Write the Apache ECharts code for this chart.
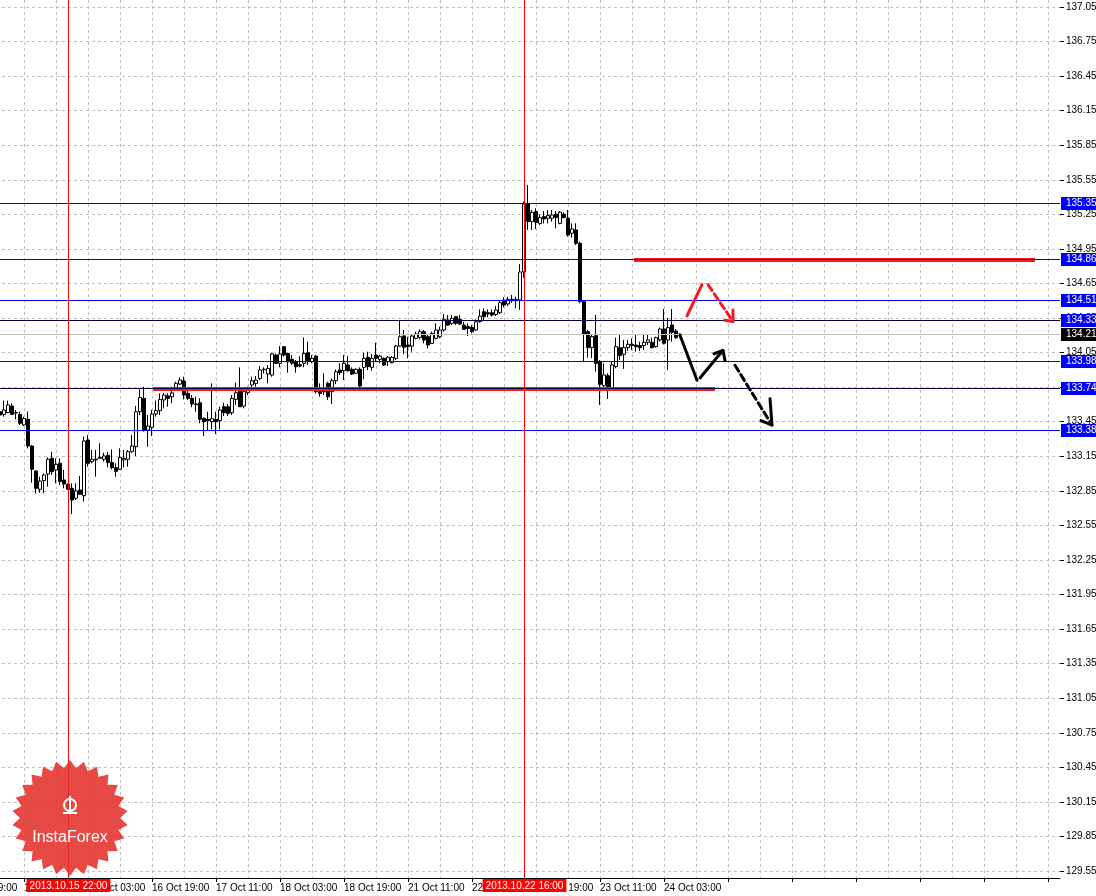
<!DOCTYPE html>
<html><head><meta charset="utf-8">
<script src="https://cdn.jsdelivr.net/npm/echarts@6/dist/echarts.min.js"></script>
<style>html,body{margin:0;padding:0;background:#fff}#c{width:1096px;height:896px}</style>
</head><body><div id="c"></div>
<script>
// ---- data ----
const barCount = 276;           // H1 bar slots (index 0 = 14 Oct 19:00)
const candleStart = 10;         // first drawn bar index
// [open, close, low, high]
const ohlc = [
[133.537,133.508,133.490,133.552],[133.514,133.552,133.494,133.633],[133.529,133.595,133.523,133.633],
[133.586,133.514,133.508,133.610],[133.526,133.529,133.471,133.552],[133.514,133.436,133.422,133.537],
[133.422,133.479,133.413,133.494],[133.471,133.239,133.219,133.537],[133.239,133.037,132.921,133.248],
[133.022,132.872,132.828,133.031],[132.863,132.935,132.834,132.973],[132.938,132.988,132.828,133.002],
[132.996,133.124,132.886,133.141],[133.132,133.016,132.988,133.190],[133.031,133.080,132.915,133.132],
[133.089,132.930,132.901,133.132],[132.944,132.909,132.872,133.031],[132.906,132.863,132.857,132.915],
[132.872,132.770,132.649,132.915],[132.785,132.849,132.770,132.915],[132.857,132.820,132.814,132.979],
[132.808,133.283,132.756,133.320],[133.291,133.089,133.060,133.335],[133.103,133.124,133.089,133.205],
[133.118,133.126,132.973,133.205],[133.132,133.141,133.132,133.262],[133.124,133.153,133.103,133.181],
[133.158,133.095,133.054,133.187],[133.095,133.051,133.037,133.210],[133.051,133.019,132.973,133.089],
[133.037,133.138,133.031,133.219],[133.118,133.132,133.054,133.205],[133.124,133.190,133.060,133.205],
[133.190,133.239,133.181,133.335],[133.233,133.537,133.153,133.586],[133.537,133.660,133.508,133.731],
[133.653,133.378,133.364,133.754],[133.378,133.413,133.233,133.508],[133.401,133.517,133.326,133.552],
[133.517,133.546,133.494,133.633],[133.546,133.644,133.508,133.696],[133.639,133.682,133.566,133.700],
[133.674,133.653,133.581,133.696],[133.667,133.700,133.610,133.754],[133.748,133.783,133.740,133.797],
[133.777,133.812,133.769,133.835],[133.803,133.682,133.644,133.841],[133.696,133.653,133.638,133.731],
[133.653,133.604,133.575,133.682],[133.604,133.598,133.537,133.667],[133.615,133.471,133.436,133.653],
[133.479,133.450,133.326,133.488],[133.471,133.459,133.372,133.537],[133.450,133.476,133.384,133.783],
[133.471,133.450,133.343,133.537],[133.459,133.552,133.384,133.580],[133.580,133.528,133.499,133.615],
[133.580,133.522,133.499,133.604],[133.528,133.653,133.508,133.682],[133.644,133.702,133.595,133.789],
[133.731,133.580,133.580,133.922],[133.586,133.711,133.566,133.740],[133.702,133.748,133.682,133.754],
[133.769,133.806,133.748,133.841],[133.783,133.812,133.754,133.847],[133.826,133.899,133.812,133.933],
[133.902,133.905,133.870,133.922],[133.864,133.913,133.783,133.942],[133.855,134.038,133.841,134.049],
[134.029,133.957,133.951,134.043],[133.957,134.038,133.922,134.107],[134.101,134.029,134.015,134.107],
[134.043,133.971,133.876,134.049],[133.991,133.957,133.942,134.029],[133.971,133.928,133.876,133.986],
[133.945,133.933,133.922,134.020],[133.957,134.043,133.922,134.182],[134.049,133.971,133.942,134.145],
[133.971,134.000,133.957,134.029],[134.020,133.711,133.696,134.029],[133.711,133.696,133.667,133.783],
[133.711,133.740,133.682,133.870],[133.783,133.667,133.638,133.797],[133.711,133.806,133.604,133.826],
[133.806,133.884,133.777,133.905],[133.899,133.876,133.855,133.957],[133.893,133.957,133.812,134.029],
[133.942,133.893,133.884,134.020],[133.905,133.864,133.855,133.922],[133.870,133.905,133.864,133.913],
[133.905,133.760,133.740,133.922],[133.922,134.000,133.818,134.049],[134.009,133.928,133.899,134.058],
[133.922,134.000,133.893,134.038],[134.029,134.000,133.971,134.136],[133.991,134.020,133.957,134.029],
[134.000,133.942,133.933,134.009],[133.971,134.009,133.933,134.020],[133.962,134.009,133.957,134.020],
[134.000,134.107,133.986,134.116],[134.107,134.188,134.101,134.333],[134.194,134.096,134.038,134.246],
[134.116,134.101,134.000,134.188],[134.107,134.194,134.058,134.203],[134.174,134.211,134.165,134.232],
[134.182,134.232,134.165,134.252],[134.232,134.159,134.130,134.246],[134.188,134.116,134.087,134.203],
[134.130,134.217,134.124,134.232],[134.174,134.246,134.165,134.304],[134.188,134.246,134.174,134.275],
[134.246,134.339,134.232,134.385],[134.333,134.289,134.281,134.376],[134.304,134.347,134.289,134.376],
[134.362,134.304,134.289,134.367],[134.339,134.298,134.289,134.376],[134.289,134.252,134.246,134.318],
[134.275,134.260,134.194,134.304],[134.269,134.232,134.217,134.289],[134.246,134.318,134.240,134.339],
[134.318,134.367,134.310,134.425],[134.405,134.362,134.333,134.434],[134.396,134.385,134.356,134.425],
[134.396,134.376,134.362,134.425],[134.382,134.420,134.367,134.454],[134.396,134.483,134.385,134.501],
[134.506,134.463,134.443,134.530],[134.472,134.512,134.454,134.535],[134.512,134.501,134.483,134.550],
[134.501,134.512,134.434,134.535],[134.507,134.750,134.420,134.820],[134.750,135.340,134.700,135.360],
[135.346,135.187,135.115,135.505],[135.187,135.268,135.115,135.288],[135.274,135.181,135.123,135.303],
[135.172,135.222,135.158,135.251],[135.230,135.210,135.172,135.279],[135.216,135.239,135.172,135.288],
[135.216,135.245,135.187,135.288],[135.251,135.222,135.129,135.279],[135.172,135.268,135.164,135.279],
[135.251,135.222,135.216,135.268],[135.216,135.071,135.057,135.288],[135.086,135.123,135.048,135.172],
[135.115,134.999,134.984,135.172],[134.999,134.492,134.478,135.013],[134.492,134.209,133.977,134.492],
[134.232,134.093,134.006,134.247],[134.093,134.189,134.001,134.209],[134.197,133.957,133.885,134.377],
[133.972,133.775,133.596,133.986],[133.763,133.856,133.740,133.957],[133.850,133.746,133.648,133.870],
[133.740,133.943,133.726,133.972],[133.928,134.102,133.914,134.180],[134.093,134.024,133.986,134.209],
[134.035,134.093,133.908,134.160],[134.093,134.122,134.064,134.160],[134.122,134.111,134.073,134.174],
[134.116,134.102,134.058,134.203],[134.111,134.093,134.064,134.145],[134.111,134.139,134.073,134.203],
[134.139,134.160,134.116,134.203],[134.139,134.093,134.087,134.180],[134.102,134.180,134.093,134.189],
[134.160,134.255,134.145,134.267],[134.255,134.131,134.120,134.429],[134.160,134.267,133.899,134.350],
[134.290,134.226,134.145,134.429],[134.238,134.180,134.168,134.255],[134.203,134.210,134.190,134.215]
];
// x-axis tick labels, one every 16 bars
const timeLabels = ["14 Oct 19:00","15 Oct 11:00","16 Oct 03:00","16 Oct 19:00","17 Oct 11:00","18 Oct 03:00",
  "18 Oct 19:00","21 Oct 11:00","22 Oct 03:00","22 Oct 19:00","23 Oct 11:00","24 Oct 03:00"];
// horizontal price levels [price, line colour, box colour]
const levels = [[135.35,'#0000ff','#0000ff'],[134.86,'#0000ff','#0000ff'],[134.51,'#0000ff','#0000ff'],
  [134.33,'#000040','#0000ff'],[133.98,'#0000ff','#0000ff'],[133.74,'#000040','#0000ff'],[133.38,'#0000ff','#0000ff'],
  [134.21,'#c0c0c0','#000000']];
// vertical time markers [bar index, label]
const timeMarks = [[27,'2013.10.15 22:00'],[141,'2013.10.22 16:00']];
// thick red support/resistance segments [[x0,x1], price]
const redSegments = [[[48.25,188.75],133.735],[[168.5,268.75],134.86]];
// hand-drawn forecast arrows (bar index, price)
const redArrow = [[181.75,134.37],[185.5,134.64]];
const redArrow2 = [[187,134.64],[193.25,134.32]];
const redHead = [[191.25,134.33],[193.25,134.32],[193.25,134.42]];
const blackArrow1 = [[180,134.20],[184.25,133.81]];
const blackArrow2 = [[185,133.83],[190.75,134.07]];
const blackHead2 = [[188.5,134.04],[190.75,134.07],[191.25,133.98]];
const blackArrow3 = [[193.75,133.94],[203,133.42]];
const blackHead3 = [[200.25,133.46],[203,133.42],[202.5,133.65]];

// ---- chart ----
const cats = []; for (let i = 0; i < barCount; i++) cats.push(String(i));
const candleData = ohlc.map((d, k) => [candleStart + k, d[0], d[1], d[2], d[3]]);
const gridLine = {show:true, lineStyle:{color:'#c0c0c0', type:[3,3], width:1}};
const font = 'Liberation Sans';

function arrowSeries(pts, color, dashed) {
  return {type:'line', xAxisIndex:1, yAxisIndex:0, data:pts, symbol:'none', silent:true, z:20,
    lineStyle:{color:color, width:3, type: dashed ? [7,4] : 'solid', cap:'round'}};
}

const chart = echarts.init(document.getElementById('c'), null, {renderer:'canvas'});
chart.setOption({
  animation:false,
  backgroundColor:'#ffffff',
  grid:[
    {left:-40, width:1100, top:0, height:878, outerBoundsMode:'none', containLabel:false},
    {left:-40, width:1100, top:7, height:864, outerBoundsMode:'none', containLabel:false}
  ],
  xAxis:[
    {type:'category', gridIndex:0, data:cats, boundaryGap:false,
      axisLine:{lineStyle:{color:'#000', width:1}},
      axisTick:{show:true, interval:15, length:4, lineStyle:{color:'#000'}},
      axisLabel:{interval:15, align:'left', margin:5, fontSize:10, fontFamily:font, color:'#000',
        formatter:(v, i) => timeLabels[Math.round(i/16)] || ''},
      splitLine:Object.assign({interval:7}, gridLine)},
    {type:'value', gridIndex:0, min:0, max:barCount-1, show:false},
    {type:'category', gridIndex:1, data:cats, boundaryGap:false, show:false}
  ],
  yAxis:[
    {type:'value', gridIndex:0, position:'right', min:129.4892, max:137.1108, scale:true,
      axisLine:{show:true, lineStyle:{color:'#000'}}, axisTick:{show:false}, axisLabel:{show:false}, splitLine:{show:false}},
    {type:'value', gridIndex:1, position:'right', min:129.55, max:137.05, interval:0.3, scale:true,
      axisLine:{show:false}, axisTick:{show:true, length:4, lineStyle:{color:'#000'}},
      axisLabel:{margin:6, fontSize:10, fontFamily:font, color:'#000', formatter:v => v.toFixed(2)},
      splitLine:gridLine}
  ],
  graphic:(function(){
    const cx = 70, cy = 818, n = 26, ro = 58, ri = 50, pts = [];
    for (let i = 0; i < n*2; i++) {
      const r = i % 2 ? ri : ro, a = Math.PI * i / n - Math.PI/2;
      pts.push([cx + r*Math.cos(a), cy + r*Math.sin(a)]);
    }
    return [
      {type:'polygon', shape:{points:pts}, style:{fill:'rgba(228,48,42,0.88)'}, z:50},
      {type:'circle', shape:{cx:cx, cy:cy-13, r:6}, style:{fill:'none', stroke:'#fff', lineWidth:2}, z:51},
      {type:'rect', shape:{x:cx-1, y:cy-22, width:2, height:18}, style:{fill:'#fff'}, z:51},
      {type:'rect', shape:{x:cx-7, y:cy-6, width:14, height:2}, style:{fill:'#fff'}, z:51},
      {type:'text', x:cx, y:cy+20, style:{text:'InstaForex', fill:'#fff', font:'16px "Liberation Sans"',
        align:'center', verticalAlign:'middle'}, z:51}
    ];
  })(),
  series:[
    {type:'candlestick', xAxisIndex:0, yAxisIndex:0, data:candleData, encode:{x:0, y:[1,2,3,4]},
      barWidth:3, silent:true,
      itemStyle:{color:'#fff', color0:'#000', borderColor:'#000', borderColor0:'#000', borderWidth:1}},
    // horizontal price levels with value boxes (crisp 1px lines)
    {type:'custom', xAxisIndex:1, yAxisIndex:0, silent:true, clip:false, z:10,
      data:levels.map(l => [0, l[0]]),
      encode:{x:0, y:1},
      renderItem:function(params, api){
        const l = levels[params.dataIndex];
        const cs = params.coordSys;
        const y = Math.round(api.coord([0, api.value(1)])[1]) + 0.5;
        return {type:'group', children:[
          {type:'line', shape:{x1:cs.x, y1:y, x2:cs.x + cs.width, y2:y}, style:{stroke:l[1], lineWidth:1}},
          {type:'text', x:cs.x + cs.width + 1, y:y, style:{text:l[0].toFixed(2), fill:'#fff',
            backgroundColor:l[2], padding:[2,4,1,5], font:'10px "Liberation Sans"', verticalAlign:'middle', align:'left'}}
        ]};
      }},
    {type:'line', xAxisIndex:1, yAxisIndex:0, data:[], silent:true, z:12,
      markLine:{symbol:'none', silent:true, animation:false,
        label:{show:false},
        data:redSegments.map(s => [{coord:[s[0][0], s[1]], lineStyle:{color:'#f01c24', width:4, type:'solid'}},
                                   {coord:[s[0][1], s[1]]}])}},
    // vertical time markers with date boxes
    {type:'custom', xAxisIndex:1, yAxisIndex:0, silent:true, clip:false, z:13,
      data:timeMarks.map(t => [t[0], 130]),
      encode:{x:0, y:1},
      renderItem:function(params, api){
        const t = timeMarks[params.dataIndex];
        const cs = params.coordSys;
        const x = Math.round(api.coord([api.value(0), 130])[0]) + 0.5;
        return {type:'group', children:[
          {type:'line', shape:{x1:x, y1:cs.y, x2:x, y2:cs.y + cs.height}, style:{stroke:'#ff0000', lineWidth:1}},
          {type:'text', x:x, y:cs.y + cs.height + 1, style:{text:t[1], fill:'#fff', backgroundColor:'#ff0000',
            padding:[2,3,1,3], font:'10px "Liberation Sans"', verticalAlign:'top', align:'center'}}
        ]};
      }},
    arrowSeries(redArrow, '#f01c24', false),
    arrowSeries(redArrow2, '#f01c24', true),
    arrowSeries(redHead, '#f01c24', false),
    arrowSeries(blackArrow1, '#000', false),
    arrowSeries(blackArrow2, '#000', false),
    arrowSeries(blackHead2, '#000', false),
    arrowSeries(blackArrow3, '#000', true),
    arrowSeries(blackHead3, '#000', false)
  ]
});
</script></body></html>
